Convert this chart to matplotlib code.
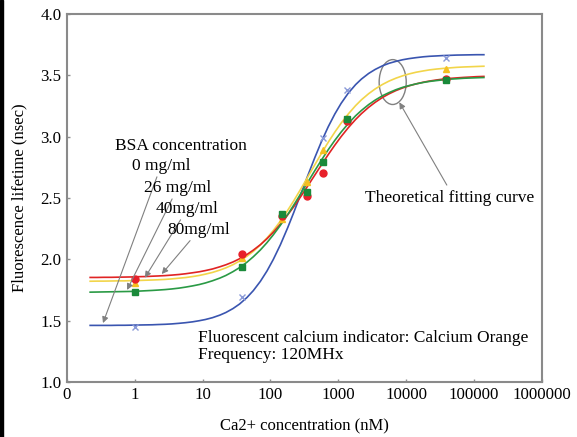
import numpy as np
import matplotlib
matplotlib.use('Agg')
from matplotlib import pyplot as plt
from matplotlib.patches import Ellipse, Rectangle

plt.rcParams['font.family'] = ['Liberation Serif', 'DejaVu Serif']

# measured points: Ca2+ concentration (nM) vs lifetime (nsec)
conc = [1, 38, 150, 351, 602, 1350, 39000]
tau_0mg = [1.45, 1.69, np.nan, np.nan, 2.99, 3.38, 3.64]
tau_26mg = [1.73, 1.94, 2.37, 2.55, 2.79, 3.14, 3.46]
tau_40mg = [1.81, 2.01, 2.33, 2.63, 2.89, 3.15, 3.55]
tau_80mg = [1.84, 2.04, 2.35, 2.52, 2.70, 3.13, 3.47]

# theoretical fitting curves
fit_conc = [0.22, 0.28, 0.35, 0.45, 0.56, 0.71, 0.89, 1.1, 1.4, 1.8, 2.2, 2.8,
            3.5, 4.5, 5.6, 7.1, 8.9, 11, 14, 18, 22, 28, 35, 45,
            56, 71, 89, 110, 140, 180, 220, 280, 350, 450, 560, 710,
            890, 1100, 1400, 1800, 2200, 2800, 3500, 4500, 5600, 7100, 8900, 11000,
            14000, 18000, 22000, 28000, 35000, 45000, 56000, 71000, 89000, 110000, 140000]
fit_0mg = [1.461, 1.461, 1.461, 1.461, 1.462, 1.462, 1.463, 1.464, 1.465, 1.466, 1.468, 1.470,
           1.473, 1.478, 1.483, 1.490, 1.499, 1.509, 1.524, 1.545, 1.566, 1.598, 1.635, 1.688,
           1.745, 1.820, 1.905, 1.998, 2.118, 2.259, 2.380, 2.532, 2.673, 2.828, 2.955, 3.080,
           3.185, 3.271, 3.354, 3.424, 3.470, 3.515, 3.548, 3.578, 3.598, 3.614, 3.627, 3.636,
           3.644, 3.651, 3.655, 3.658, 3.661, 3.663, 3.665, 3.666, 3.667, 3.668, 3.668]
fit_26mg = [1.732, 1.733, 1.734, 1.735, 1.736, 1.737, 1.738, 1.740, 1.743, 1.746, 1.749, 1.753,
            1.758, 1.765, 1.773, 1.783, 1.794, 1.807, 1.825, 1.847, 1.868, 1.899, 1.932, 1.976,
            2.021, 2.076, 2.136, 2.199, 2.277, 2.366, 2.441, 2.535, 2.623, 2.722, 2.806, 2.893,
            2.970, 3.037, 3.106, 3.170, 3.214, 3.261, 3.298, 3.334, 3.359, 3.383, 3.402, 3.416,
            3.430, 3.442, 3.450, 3.457, 3.463, 3.469, 3.472, 3.476, 3.478, 3.480, 3.482]
fit_40mg = [1.821, 1.822, 1.822, 1.823, 1.824, 1.824, 1.826, 1.827, 1.829, 1.831, 1.833, 1.836,
            1.840, 1.846, 1.851, 1.859, 1.868, 1.879, 1.893, 1.912, 1.930, 1.956, 1.985, 2.025,
            2.065, 2.117, 2.174, 2.234, 2.311, 2.400, 2.476, 2.573, 2.665, 2.770, 2.860, 2.954,
            3.037, 3.110, 3.184, 3.253, 3.301, 3.350, 3.389, 3.426, 3.453, 3.477, 3.496, 3.511,
            3.525, 3.536, 3.544, 3.551, 3.556, 3.561, 3.565, 3.568, 3.570, 3.572, 3.574]
fit_80mg = [1.852, 1.852, 1.853, 1.853, 1.854, 1.855, 1.856, 1.858, 1.859, 1.862, 1.864, 1.867,
            1.871, 1.876, 1.882, 1.890, 1.898, 1.908, 1.921, 1.939, 1.955, 1.978, 2.004, 2.039,
            2.075, 2.119, 2.168, 2.220, 2.286, 2.363, 2.428, 2.512, 2.593, 2.686, 2.767, 2.853,
            2.931, 3.000, 3.072, 3.140, 3.188, 3.239, 3.280, 3.320, 3.349, 3.376, 3.397, 3.414,
            3.430, 3.444, 3.453, 3.462, 3.469, 3.475, 3.479, 3.483, 3.486, 3.489, 3.491]

xticks = [0.1, 1, 10, 100, 1000, 10000, 100000, 1000000]
xticklabels = ['0', '1', '10', '100', '1000', '10000', '100000', '1000000']
yticks = [1.0, 1.5, 2.0, 2.5, 3.0, 3.5, 4.0]

fig = plt.figure(figsize=(5.77, 4.37), dpi=100)
ax = fig.add_axes([0.116, 0.126, 0.823, 0.842])

# curves
ax.plot(fit_conc, fit_0mg, c='#3a55b0', lw=1.2)
ax.plot(fit_conc, fit_40mg, c='#f2d54a', lw=1.2)
ax.plot(fit_conc, fit_80mg, c='#e02424', lw=1.2)
ax.plot(fit_conc, fit_26mg, c='#2a9a45', lw=1.2)

# points
ax.plot(conc, tau_0mg, 'x', c='#8a9ad8', ms=5, mew=1.0)
ax.plot(conc, tau_40mg, '^', c='#f5c020', ms=5, mec='#f5c020')
ax.plot(conc, tau_80mg, 'o', c='#e8202a', ms=5)
ax.plot(conc, tau_26mg, 's', c='#1a8a3a', ms=5)

ax.set_xscale('log')
ax.set_xlim(0.1, 1000000)
ax.set_ylim(1.0, 4.0)
ax.set_xticks(xticks)
ax.set_xticklabels(xticklabels)
ax.minorticks_off()
ax.set_yticks(yticks)
ax.set_yticklabels(['%.1f' % v for v in yticks])
ax.tick_params(direction='in', length=2.5, width=1, color='#909090',
               labelsize=12.2, pad=4)
for sp in ax.spines.values():
    sp.set_color('#8a8a8a')
    sp.set_linewidth(1.5)

ax.set_xlabel('Ca2+ concentration (nM)', fontsize=12, labelpad=11)
ax.set_ylabel('Fluorescence lifetime (nsec)', fontsize=12, labelpad=9)

# BSA labels with arrows
fs = 12.5
arrow = dict(arrowstyle='-|>', color='#808080', lw=0.8,
             mutation_scale=9, shrinkA=0, shrinkB=0)
ax.text(0.51, 2.92, 'BSA concentration', fontsize=fs, va='center')
ax.annotate('0 mg/ml', xy=(0.34, 1.48), xytext=(0.9, 2.76), fontsize=fs,
            va='center', arrowprops=arrow)
ax.annotate('26 mg/ml', xy=(0.77, 1.75), xytext=(1.36, 2.58), fontsize=fs,
            va='center', arrowprops=arrow)
ax.annotate('40mg/ml', xy=(1.41, 1.85), xytext=(2.04, 2.41), fontsize=fs,
            va='center', arrowprops=arrow)
ax.annotate('80mg/ml', xy=(2.5, 1.88), xytext=(3.07, 2.24), fontsize=fs,
            va='center', arrowprops=arrow)

# theoretical fitting curve label and ellipse
ell = Ellipse((0.686, 0.815), 0.057, 0.122, transform=ax.transAxes,
              fill=False, ec='#808080', lw=1.0)
ax.add_patch(ell)
ax.text(0.628, 0.500, 'Theoretical fitting curve', transform=ax.transAxes,
        fontsize=fs, va='center')
ax.annotate('', xy=(0.70, 0.760), xycoords='axes fraction',
            xytext=(0.80, 0.535), textcoords='axes fraction',
            arrowprops=arrow)

ax.text(0.276, 0.1196, 'Fluorescent calcium indicator: Calcium Orange',
        transform=ax.transAxes, fontsize=fs, va='center')
ax.text(0.276, 0.0734, 'Frequency: 120MHx',
        transform=ax.transAxes, fontsize=fs, va='center')

# dark strip on the left edge of the scan
fig.patches.append(Rectangle((0, 0), 0.006, 1, transform=fig.transFigure,
                             color='black', zorder=10))

fig.savefig('out.png', dpi=100)
